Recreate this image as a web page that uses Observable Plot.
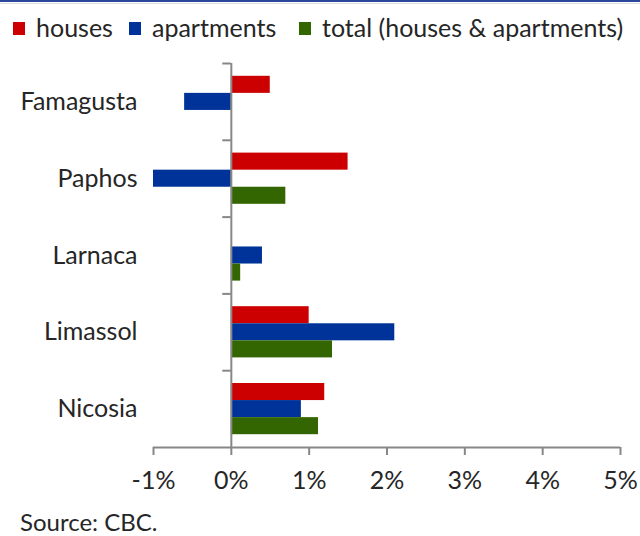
<!DOCTYPE html>
<html>
<head>
<meta charset="utf-8">
<script src="https://cdn.jsdelivr.net/npm/d3@7"></script>
<script src="https://cdn.jsdelivr.net/npm/@observablehq/plot@0.6"></script>
<style>
  html, body { margin: 0; padding: 0; background: #fff; }
  body { width: 640px; height: 536px; position: relative; overflow: hidden; font-family: Lato, "Open Sans", sans-serif; color: #262626; }
  #topline { position: absolute; left: 0; top: 0; width: 640px; height: 2px; background: #2a479c; }
  #topline2 { position: absolute; left: 0; top: 3px; width: 640px; height: 1px; background: #dcdcdc; }
  #legend { position: absolute; left: 0; top: 12px; width: 640px; height: 32px; font-size: 25px; }
  .item { position: absolute; top: 0; display: flex; align-items: center; white-space: nowrap; line-height: 30px; }
  .sw { width: 12px; height: 13px; margin-right: 11px; margin-top: 3px; }
  #chart { position: absolute; left: 0; top: 50px; }
  #source { position: absolute; left: 20px; top: 508px; font-size: 24px; line-height: 28px; }
</style>
</head>
<body>
<div id="topline"></div>
<div id="topline2"></div>
<div id="legend"></div>
<div id="chart"></div>
<div id="source">Source: CBC.</div>
<script>
// Data (percent change)
const categories = ["Famagusta", "Paphos", "Larnaca", "Limassol", "Nicosia"];
const seriesNames = ["houses", "apartments", "total (houses & apartments)"];
const seriesColors = ["#cc0000", "#003399", "#336600"];
const houses = [0.5, 1.5, null, 1.0, 1.2];
const apartments = [-0.6, -1.0, 0.4, 2.1, 0.9];
const total = [null, 0.7, 0.12, 1.3, 1.12];
const xTicks = [-1, 0, 1, 2, 3, 4, 5];

const seriesValues = [houses, apartments, total];
const rows = [];
categories.forEach((c, ci) => {
  seriesValues.forEach((vals, si) => {
    if (vals[ci] != null) rows.push({category: c, ci, series: seriesNames[si], si, value: vals[ci]});
  });
});

// Excel-like grouping: gap width 50% -> group occupies 2/3 of the band
const groupFrac = 2 / 3;
const barFrac = groupFrac / seriesNames.length;
const pad = (1 - groupFrac) / 2;

// Legend
const legend = document.getElementById("legend");
const legendLeft = [13, 129, 299];
seriesNames.forEach((s, i) => {
  const it = document.createElement("div");
  it.className = "item";
  it.style.left = legendLeft[i] + "px";
  const sw = document.createElement("span");
  sw.className = "sw";
  sw.style.background = seriesColors[i];
  const t = document.createElement("span");
  t.textContent = s;
  it.appendChild(sw); it.appendChild(t);
  legend.appendChild(it);
});

const axisColor = "#878787";
const plot = Plot.plot({
  width: 640,
  height: 460,
  marginLeft: 153,
  marginRight: 20,
  marginTop: 13,
  marginBottom: 63,
  style: {fontFamily: "Lato, 'Open Sans', sans-serif", color: "#262626", background: "transparent"},
  x: {domain: [xTicks[0], xTicks[xTicks.length - 1]]},
  y: {domain: [0, categories.length], reverse: true},
  color: {domain: seriesNames, range: seriesColors},
  marks: [
    Plot.rect(rows, {
      x1: 0,
      x2: "value",
      y1: d => d.ci + pad + d.si * barFrac,
      y2: d => d.ci + pad + (d.si + 1) * barFrac,
      fill: "series"
    }),
    // vertical axis at 0
    Plot.ruleX([0], {y1: 0, y2: categories.length, stroke: axisColor, strokeWidth: 2}),
    // category boundary ticks
    Plot.ruleY(categories.map((c, i) => i), {x1: -0.11, x2: 0, stroke: axisColor, strokeWidth: 2}),
    // horizontal axis line
    Plot.ruleY([categories.length], {stroke: axisColor, strokeWidth: 2}),
    Plot.axisX({
      ticks: xTicks,
      tickFormat: d => d + "%",
      tickSize: 8,
      tickPadding: 16,
      fontSize: 25,
      stroke: axisColor,
      strokeWidth: 2,
      label: null,
      color: "#262626"
    }),
    Plot.axisY({
      ticks: categories.map((c, i) => i + 0.5),
      tickFormat: v => categories[Math.floor(v)],
      tickSize: 0,
      tickPadding: 16,
      fontSize: 25,
      label: null
    })
  ]
});
document.getElementById("chart").appendChild(plot);
</script>
</body>
</html>
